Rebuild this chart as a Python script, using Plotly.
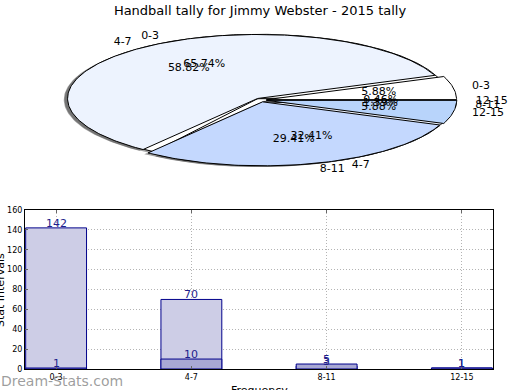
import math
import plotly.graph_objects as go

# ---------------- data ----------------
categories = ["0-3", "4-7", "8-11", "12-15"]
series_a = [142, 70, 3, 1]      # back bars / lower pie
series_b = [1, 10, 5, 1]        # front bars / upper pie
slice_colors = ["#ffffff", "#edf3fe", "#c4d8fe", "#b8d4fb"]
title_text = "Handball tally for Jimmy Webster - 2015 tally"
y_ticks = [0, 20, 40, 60, 80, 100, 120, 140, 160]

W, H = 520, 390
explode = 0.03

fig = go.Figure()


def wedges(values):
    total = float(sum(values))
    out = []
    cum = 0.0
    for i, v in enumerate(values):
        t1 = 360.0 * cum / total
        cum += v
        t2 = 360.0 * cum / total
        mid = math.radians((t1 + t2) / 2)
        cx, cy = explode * math.cos(mid), explode * math.sin(mid)
        n = max(4, int((t2 - t1) / 1.0) + 2)
        xs, ys = [cx], [cy]
        for k in range(n + 1):
            a = math.radians(t1 + (t2 - t1) * k / n)
            xs.append(cx + math.cos(a))
            ys.append(cy + math.sin(a))
        xs.append(cx)
        ys.append(cy)
        out.append(dict(xs=xs, ys=ys, cx=cx, cy=cy, mid=mid,
                        pct=100.0 * v / total, label=categories[i], color=slice_colors[i]))
    return out


pies = [wedges(series_a), wedges(series_b)]

# shadows
for pw in pies:
    for w in pw:
        fig.add_trace(go.Scatter(
            x=[x - 0.02 for x in w["xs"]], y=[y - 0.02 for y in w["ys"]],
            fill="toself", fillcolor="rgba(70,70,70,0.5)", mode="lines",
            line=dict(width=0), xaxis="x2", yaxis="y2", hoverinfo="skip", showlegend=False))
# wedges
for pw in pies:
    for w in pw:
        fig.add_trace(go.Scatter(
            x=w["xs"], y=w["ys"], fill="toself", fillcolor=w["color"], mode="lines",
            line=dict(color="black", width=1), xaxis="x2", yaxis="y2",
            hoverinfo="skip", showlegend=False))
# texts
for pw in pies:
    for w in pw:
        lx = w["cx"] + 1.1 * math.cos(w["mid"])
        ly = w["cy"] + 1.1 * math.sin(w["mid"])
        fig.add_trace(go.Scatter(
            x=[lx], y=[ly], mode="text", text=[w["label"]],
            textposition="middle right" if lx > 0 else "middle left",
            textfont=dict(family="DejaVu Sans", size=11, color="black"),
            xaxis="x2", yaxis="y2", hoverinfo="skip", showlegend=False, cliponaxis=False))
        px = w["cx"] + 0.6 * math.cos(w["mid"])
        py = w["cy"] + 0.6 * math.sin(w["mid"])
        fig.add_trace(go.Scatter(
            x=[px], y=[py], mode="text", text=["%.2f%%" % w["pct"]],
            textposition="middle center",
            textfont=dict(family="DejaVu Sans", size=11, color="black"),
            xaxis="x2", yaxis="y2", hoverinfo="skip", showlegend=False, cliponaxis=False))

# ---------------- bars ----------------
fig.add_trace(go.Bar(x=categories, y=series_a, width=0.45,
                     marker=dict(color="#cdcde6", line=dict(color="#00008b", width=1)),
                     showlegend=False, hoverinfo="skip"))
fig.add_trace(go.Bar(x=categories, y=series_b, width=0.45,
                     marker=dict(color="#a8a8d4", line=dict(color="#00008b", width=1)),
                     showlegend=False, hoverinfo="skip"))

annotations = []
for s in (series_a, series_b):
    for c, v in zip(categories, s):
        annotations.append(dict(x=c, y=v, xref="x", yref="y", text=str(v), showarrow=False,
                                xanchor="center", yanchor="bottom", yshift=-4,
                                font=dict(family="DejaVu Sans", size=11, color="#1e1e8c")))

grid = dict(showgrid=True, gridcolor="#b4b4b4", griddash="1px,2px", gridwidth=1)

annotations += [
    dict(text="Stat Intervals", textangle=-90, xref="paper", yref="paper",
         x=0, y=(H - 290) / H, xanchor="center", yanchor="middle", showarrow=False,
         font=dict(family="DejaVu Sans", size=11, color="black")),
    dict(text="Frequency", xref="paper", yref="paper",
         x=259 / W, y=(H - 382) / H, xanchor="center", yanchor="top", showarrow=False,
         font=dict(family="DejaVu Sans", size=11, color="black")),
    dict(text="Dream-Stats.com", xref="paper", yref="paper",
         x=-1 / W, y=(H - 381) / H, xanchor="left", yanchor="middle", showarrow=False,
         font=dict(family="DejaVu Sans", size=14, color="rgba(125,125,125,0.75)")),
]

fig.update_layout(
    width=W, height=H,
    margin=dict(l=0, r=0, t=0, b=0, autoexpand=False),
    paper_bgcolor="white", plot_bgcolor="white",
    barmode="overlay",
    title=dict(text=title_text, x=0.5, xanchor="center", y=1 - 10 / H, yanchor="middle",
               font=dict(family="DejaVu Sans", size=13, color="black")),
    xaxis=dict(domain=[25 / W, 493 / W], type="category", range=[-0.23, 3.23],
               showline=True, linecolor="black", linewidth=1, mirror="ticks",
               ticks="inside", ticklen=3, tickcolor="#666",
               tickfont=dict(family="DejaVu Sans", size=8, color="black"), zeroline=False,
               **grid),
    yaxis=dict(domain=[(H - 369) / H, (H - 210) / H], range=[0, 160],
               tickvals=y_ticks,
               showline=True, linecolor="black", linewidth=1, mirror="ticks",
               ticks="inside", ticklen=3, tickcolor="#666",
               tickfont=dict(family="DejaVu Sans", size=8, color="black"), zeroline=False,
               **grid),
    xaxis2=dict(domain=[0, 1], range=[-261 / 190, (W - 261) / 190], visible=False),
    yaxis2=dict(domain=[190 / H, 1], range=[-100 / 64, 100 / 64], visible=False,
                anchor="x2"),
    annotations=annotations,
)

fig.write_html("out.html", config={"displayModeBar": False},
               post_script="document.body.style.margin='0';document.body.style.padding='0';")
